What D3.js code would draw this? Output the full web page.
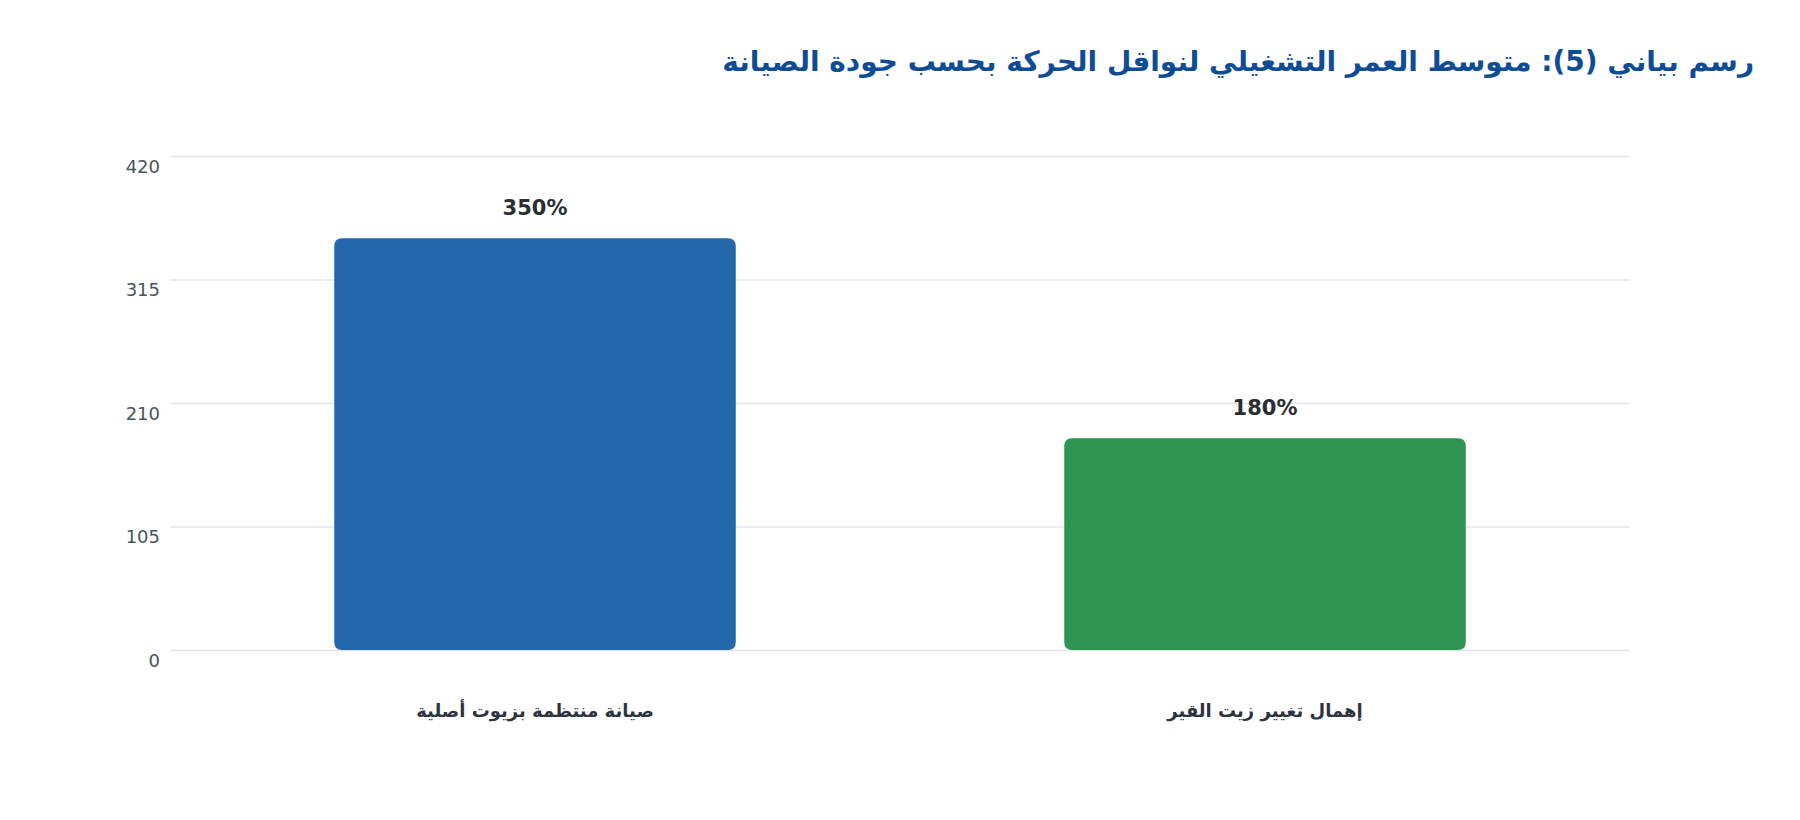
<!DOCTYPE html>
<html lang="ar">
<head>
<meta charset="utf-8">
<script src="https://cdn.jsdelivr.net/npm/d3@7"></script>
<style>
  html, body { margin: 0; padding: 0; background: #fff; }
  svg { display: block; font-family: "DejaVu Sans", sans-serif; }
</style>
</head>
<body>
<svg id="chart" width="1800" height="820"></svg>
<script>
// data
const categories = ["صيانة منتظمة بزيوت أصلية", "إهمال تغيير زيت القير"];
const values = [350, 180];
const barColors = ["#2366aa", "#2e9452"];
const yTicks = [0, 105, 210, 315, 420];
const titleText = "رسم بياني (5): متوسط العمر التشغيلي لنواقل الحركة بحسب جودة الصيانة";

const W = 1800, H = 820;
const m = { left: 170, right: 170, top: 156, bottom: 170 };

const svg = d3.select("#chart");

const x = d3.scaleBand()
  .domain(categories)
  .range([m.left, W - m.right])
  .paddingInner(0.45)
  .paddingOuter(0.225);

const y = d3.scaleLinear()
  .domain([0, 420])
  .range([H - m.bottom, m.top]);

// title
svg.append("text")
  .attr("x", 1754)
  .attr("y", 71)
  .attr("direction", "rtl")
  .attr("text-anchor", "start")
  .attr("fill", "#0f4c96")
  .attr("font-size", 28)
  .attr("font-weight", "bold")
  .text(titleText);

// grid + y ticks
const yAxis = d3.axisLeft(y)
  .tickValues(yTicks)
  .tickSize(-(W - m.left - m.right))
  .tickPadding(10);

const gy = svg.append("g")
  .attr("transform", `translate(${m.left},0)`)
  .call(yAxis);
gy.select(".domain").remove();
gy.selectAll(".tick line").attr("stroke", "#e2e6ec").attr("stroke-width", 1.6);
gy.selectAll(".tick text")
  .attr("fill", "#4a5360")
  .attr("font-size", 18)
  .attr("font-family", "DejaVu Sans, sans-serif")
  .attr("dy", "0.95em")
  .attr("y", -1);

// bars
const rows = categories.map((c, i) => ({ c, v: values[i], color: barColors[i] }));

svg.append("g").selectAll("path")
  .data(rows)
  .join("path")
  .attr("fill", d => d.color)
  .attr("d", d => {
    const x0 = x(d.c), w = x.bandwidth(), y0 = y(d.v), y1 = y(0), r = 8;
    return `M${x0},${y1 - r}V${y0 + r}Q${x0},${y0} ${x0 + r},${y0}H${x0 + w - r}Q${x0 + w},${y0} ${x0 + w},${y0 + r}V${y1 - r}Q${x0 + w},${y1} ${x0 + w - r},${y1}H${x0 + r}Q${x0},${y1} ${x0},${y1 - r}Z`;
  });

// value labels
svg.append("g").selectAll("text")
  .data(rows)
  .join("text")
  .attr("x", d => x(d.c) + x.bandwidth() / 2)
  .attr("y", d => y(d.v) - 23)
  .attr("text-anchor", "middle")
  .attr("fill", "#2a2e33")
  .attr("font-size", 21)
  .attr("font-weight", "bold")
  .text(d => d.v + "%");

// category labels
svg.append("g").selectAll("text")
  .data(rows)
  .join("text")
  .attr("x", d => x(d.c) + x.bandwidth() / 2)
  .attr("y", 717)
  .attr("text-anchor", "middle")
  .attr("direction", "rtl")
  .attr("fill", "#2d3440")
  .attr("font-size", 18)
  .attr("font-weight", "bold")
  .text(d => d.c);
</script>
</body>
</html>
